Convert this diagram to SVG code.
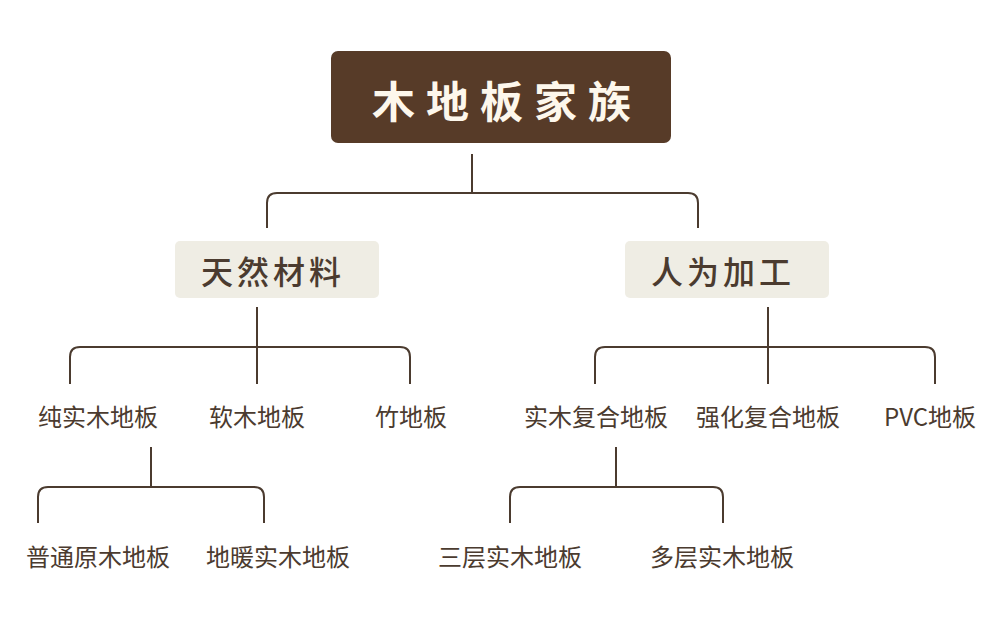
<svg xmlns="http://www.w3.org/2000/svg" width="1000" height="618" viewBox="0 0 1000 618">
<style>
.t{font-family:"Noto Sans CJK SC","Noto Sans",sans-serif;fill:#4b3b2f;text-anchor:middle}
.l3{font-size:24px}
.l2{font-size:32px;font-weight:500;letter-spacing:4px}
.root{font-size:43px;font-weight:700;fill:#fdf7ec;letter-spacing:11px;text-anchor:middle;font-family:"Noto Sans CJK SC","Noto Sans",sans-serif}
.c{fill:none;stroke:#4b3b2f;stroke-width:2;stroke-linejoin:round}
.box2{fill:#efede4}
</style>
<rect width="1000" height="618" fill="#ffffff"/>
<g id="connectors">
<path class="c" d="M472 154V193"/>
<path class="c" d="M267 228V203Q267 193 277 193H688Q698 193 698 203V228"/>
<path class="c" d="M257 307V384"/>
<path class="c" d="M70 384V357Q70 347 80 347H400Q410 347 410 357V384"/>
<path class="c" d="M768 307V384"/>
<path class="c" d="M595 384V357Q595 347 605 347H925Q935 347 935 357V384"/>
<path class="c" d="M151 447V487"/>
<path class="c" d="M38 523V497Q38 487 48 487H254Q264 487 264 497V523"/>
<path class="c" d="M616 447V487"/>
<path class="c" d="M510 523V497Q510 487 520 487H713Q723 487 723 497V523"/>
</g>
<g id="root">
<rect x="331" y="51" width="340" height="92" rx="7" fill="#573b28"/>
<text class="root" x="507" y="118">木地板家族</text>
</g>
<g id="natural">
<rect class="box2" x="175" y="241" width="204" height="57" rx="5"/>
<text class="t l2" x="273" y="284">天然材料</text>
</g>
<g id="artificial">
<rect class="box2" x="625" y="241" width="204" height="57" rx="5"/>
<text class="t l2" x="723" y="284">人为加工</text>
</g>
<g id="n-chunshimu"><text class="t l3" x="98" y="426">纯实木地板</text></g>
<g id="n-ruanmu"><text class="t l3" x="257" y="426">软木地板</text></g>
<g id="n-zhu"><text class="t l3" x="411" y="426">竹地板</text></g>
<g id="n-shimufuhe"><text class="t l3" x="596" y="426">实木复合地板</text></g>
<g id="n-qianghua"><text class="t l3" x="768" y="426">强化复合地板</text></g>
<g id="n-pvc"><text class="t l3" x="930" y="426">PVC地板</text></g>
<g id="n-putong"><text class="t l3" x="98" y="566">普通原木地板</text></g>
<g id="n-dinuan"><text class="t l3" x="278" y="566">地暖实木地板</text></g>
<g id="n-sanceng"><text class="t l3" x="510" y="566">三层实木地板</text></g>
<g id="n-duoceng"><text class="t l3" x="722" y="566">多层实木地板</text></g>
</svg>
